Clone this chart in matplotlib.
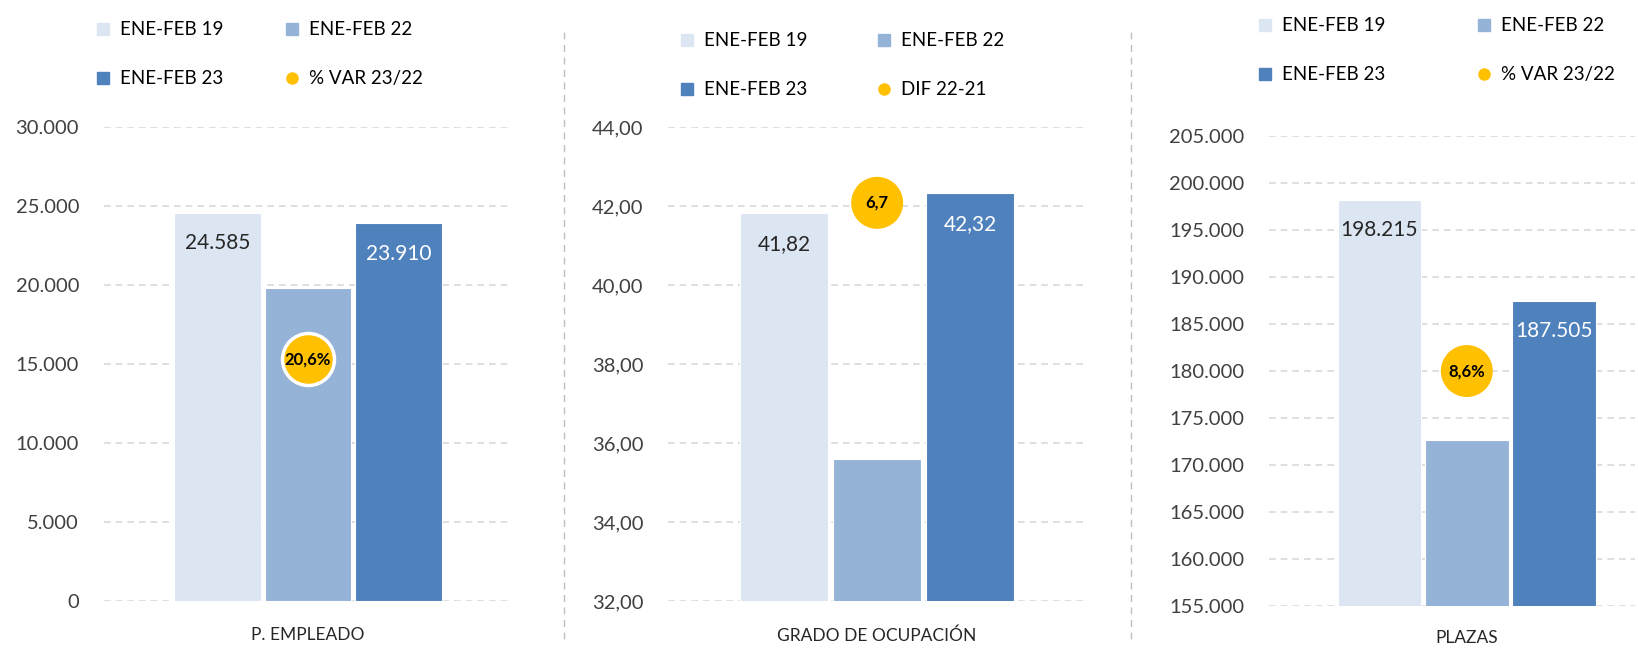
import matplotlib.pyplot as plt
from matplotlib.lines import Line2D

plt.rcParams['font.family'] = ['Lato', 'DejaVu Sans']

series = ['ENE-FEB 19', 'ENE-FEB 22', 'ENE-FEB 23']
colores = ['#DCE6F2', '#95B3D7', '#4F81BD']

categorias = ['P. EMPLEADO', 'GRADO DE OCUPACIÓN', 'PLAZAS']
empleado = [24585, 19826, 23910]
ocupacion = [41.82, 35.60, 42.32]
plazas = [198215, 172650, 187505]

var_nombres = ['% VAR 23/22', 'DIF 22-21', '% VAR 23/22']
var_textos = ['20,6%', '6,7', '8,6%']
var_altura = [15300, 42.08, 180000]

limites = [(0, 30000, 5000), (32, 44, 2), (155000, 205000, 5000)]
decimales = [0, 2, 0]


def formato(v, dec):
    s = f"{v:,.{dec}f}"
    return s.replace(',', 'X').replace('.', ',').replace('X', '.')


fig = plt.figure(figsize=(16.38, 6.48), dpi=100)

ejes_pos = [[0.0635, 0.0725, 0.249, 0.7315],
            [0.408, 0.0725, 0.255, 0.7315],
            [0.775, 0.0648, 0.2234, 0.7252]]
xlims = [(-1.25, 3.25), (-1.25, 3.25), (-1.26, 2.93)]
anchos = [0.955, 0.946, 0.96]
leyenda_pos = [(0.0586, 0.967), (0.415, 0.950), (0.768, 0.973)]
col_esp = [3.25, 3.7, 4.85]
borde_circulo = ['white', 'none', 'none']
xpad = [19, 19, 17]

for i, valores in enumerate([empleado, ocupacion, plazas]):
    ax = fig.add_axes(ejes_pos[i])
    lo, hi, paso = limites[i]
    x = [0, 1, 2]
    ax.bar(x, valores, width=anchos[i], color=colores, zorder=2,
           edgecolor='white', linewidth=0.8)
    ax.set_ylim(lo, hi)
    ax.set_xlim(*xlims[i])
    ticks = []
    t = lo
    while t <= hi + 1e-9:
        ticks.append(t)
        t += paso
    ax.set_yticks(ticks)
    ax.set_yticklabels([formato(t, decimales[i]) for t in ticks],
                       fontsize=14.5, color='#404040')
    ax.tick_params(axis='y', length=0, pad=18)
    ax.set_xticks([1])
    ax.set_xticklabels([categorias[i]], fontsize=12.5, color='#262626')
    ax.tick_params(axis='x', length=0, pad=xpad[i])
    for s in ax.spines.values():
        s.set_visible(False)
    ax.yaxis.grid(True, color='#D9D9D9', linestyle=(0, (4, 3)), linewidth=1.2, zorder=0)
    ax.set_axisbelow(True)

    for j, col in [(0, '#262626'), (2, 'white')]:
        ax.annotate(formato(valores[j], decimales[i]), (x[j], valores[j]),
                    xytext=(0, -22), textcoords='offset points', ha='center', va='center',
                    fontsize=15, color=col, zorder=4)

    ax.scatter([1], [var_altura[i]], s=1400, color='#FFC000', zorder=5,
               edgecolors=borde_circulo[i], linewidths=2.5)
    ax.text(1, var_altura[i], var_textos[i], ha='center', va='center',
            fontsize=12, fontweight='bold', color='black', zorder=6)

    manejadores = [
        Line2D([], [], marker='s', linestyle='none', markersize=8, color=colores[0]),
        Line2D([], [], marker='s', linestyle='none', markersize=8, color=colores[2]),
        Line2D([], [], marker='s', linestyle='none', markersize=8, color=colores[1]),
        Line2D([], [], marker='o', linestyle='none', markersize=8, color='#FFC000'),
    ]
    etiquetas = [series[0], series[2], series[1], var_nombres[i]]
    fig.legend(manejadores, etiquetas, loc='upper left', bbox_to_anchor=leyenda_pos[i],
               bbox_transform=fig.transFigure, ncol=2, frameon=False, fontsize=13.5,
               handlelength=0.8, handletextpad=0.5, columnspacing=col_esp[i],
               labelspacing=1.7, borderpad=0, borderaxespad=0)

for xs in [564 / 1638, 1131 / 1638]:
    fig.add_artist(Line2D([xs, xs], [1 - 32 / 648, 1 - 642 / 648], transform=fig.transFigure,
                          color='#BFBFBF', linestyle=(0, (5, 4)), linewidth=1))

fig.savefig('out.png', dpi=100)
